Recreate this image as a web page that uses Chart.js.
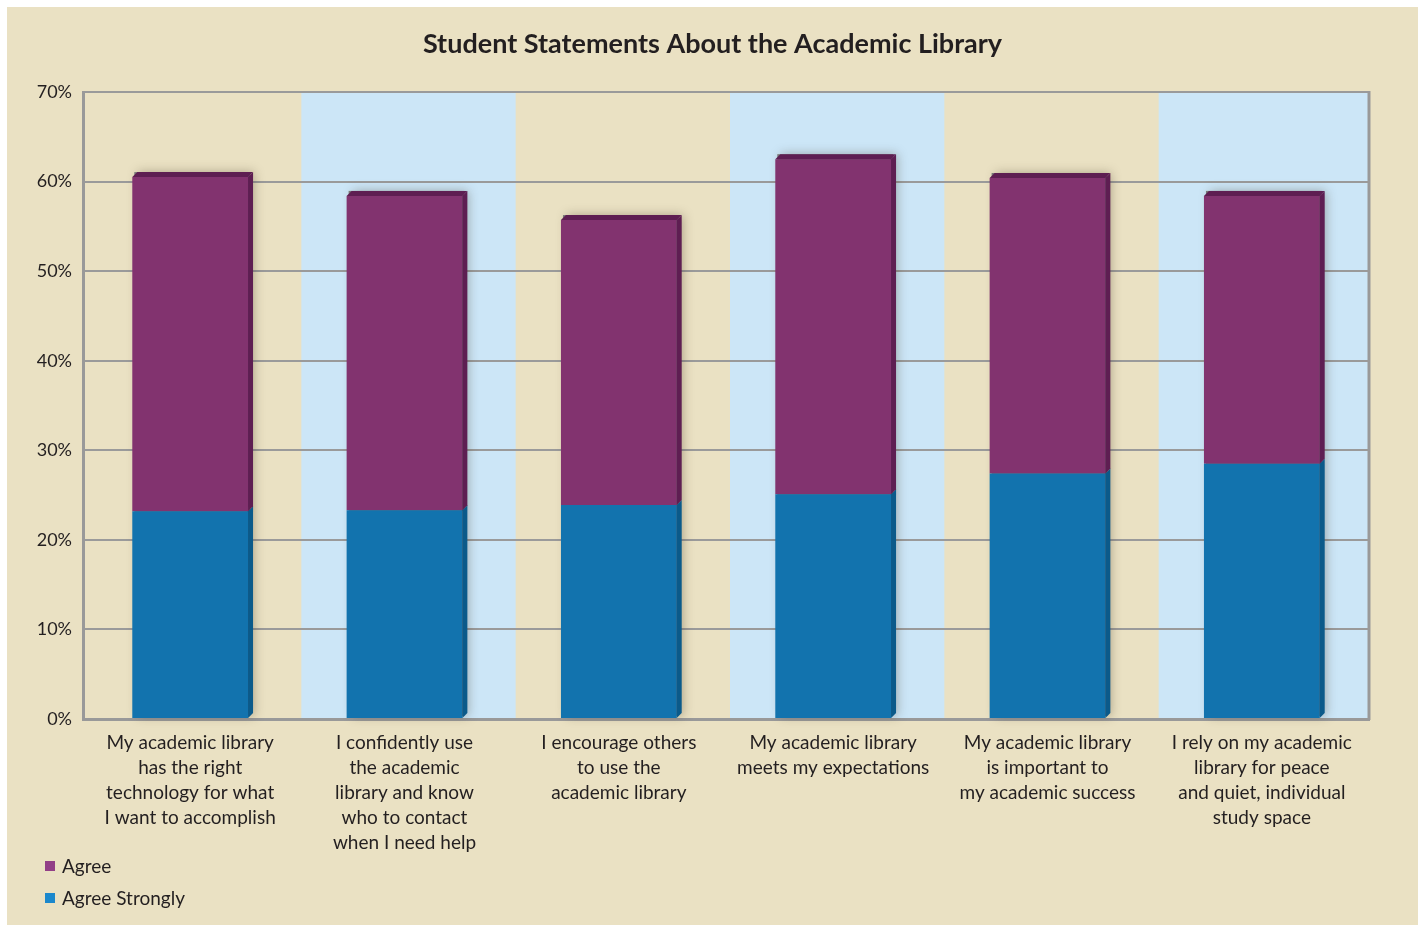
<!DOCTYPE html>
<html>
<head>
<meta charset="utf-8">
<title>Student Statements About the Academic Library</title>
<script src="https://cdn.jsdelivr.net/npm/chart.js@4.4.1/dist/chart.umd.min.js"></script>
<style>
    html, body {
        margin: 0;
        padding: 0;
        background: #ffffff;
    }
    .chart-container {
        position: absolute;
        left: 7px;
        top: 7px;
        width: 1411px;
        height: 918px;
        background: #eae1c3;
    }
</style>
</head>
<body>
<div class="chart-container">
    <canvas id="libraryChart" width="1411" height="918"></canvas>
</div>
<script>
// Survey data, percentages of students
const statements = [
    ['My academic library', 'has the right', 'technology for what', 'I want to accomplish'],
    ['I confidently use', 'the academic', 'library and know', 'who to contact', 'when I need help'],
    ['I encourage others', 'to use the', 'academic library'],
    ['My academic library', 'meets my expectations'],
    ['My academic library', 'is important to', 'my academic success'],
    ['I rely on my academic', 'library for peace', 'and quiet, individual', 'study space']
];
const agreeStrongly = [23.2, 23.3, 23.9, 25.1, 27.4, 28.5];
const agree = [37.3, 35.1, 31.8, 37.4, 33.0, 29.9];
const yTicks = [0, 10, 20, 30, 40, 50, 60, 70];
const chartTitle = 'Student Statements About the Academic Library';

const TEXT_COLOR = '#231f20';
const FONT = 'Lato, "Open Sans", sans-serif';
const DEPTH = 5;

// front colour, darker colour for the side/top faces, legend swatch
const faceColors = {
    front: ['#1273ae', '#82336f'],
    side: ['#0b5a8a', '#5e1e52'],
    legend: ['#1b88cc', '#923f87']
};

// alternating beige / light blue columns behind the bars
const bandsPlugin = {
    id: 'bands',
    beforeDraw(chart) {
        const {ctx, chartArea} = chart;
        const step = (chartArea.right - chartArea.left) / statements.length;
        ctx.save();
        ctx.fillStyle = '#cce6f7';
        for (let i = 1; i < statements.length; i += 2) {
            const x0 = chartArea.left + i * step + 4;
            const x1 = Math.min(chartArea.left + (i + 1) * step + 4, chartArea.right);
            ctx.fillRect(x0, chartArea.top, x1 - x0, chartArea.bottom - chartArea.top);
        }
        ctx.restore();
    },
    beforeDatasetsDraw(chart) {
        // right hand frame line
        const {ctx, chartArea} = chart;
        ctx.save();
        ctx.strokeStyle = '#999999';
        ctx.lineWidth = 3;
        ctx.beginPath();
        ctx.moveTo(chartArea.right, chartArea.top - 1);
        ctx.lineTo(chartArea.right, chartArea.bottom + 1);
        ctx.stroke();

        // soft shadow behind each stacked column
        const bottomMeta = chart.getDatasetMeta(0);
        const topMeta = chart.getDatasetMeta(1);
        bottomMeta.data.forEach((bar, i) => {
            const top = topMeta.data[i];
            const left = bar.x - bar.width / 2;
            const right = bar.x + bar.width / 2;
            ctx.save();
            ctx.shadowColor = 'rgba(60, 50, 30, 0.35)';
            ctx.shadowBlur = 10;
            ctx.shadowOffsetX = 4;
            ctx.shadowOffsetY = 0;
            ctx.fillStyle = '#777';
            ctx.fillRect(left + 2, top.y - DEPTH, right - left, bar.base - top.y + DEPTH - 2);
            ctx.restore();
        });
        ctx.restore();
    }
};

// side and top faces giving the bars their depth
const depthPlugin = {
    id: 'depth',
    afterDatasetsDraw(chart) {
        const {ctx} = chart;
        ctx.save();
        chart.data.datasets.forEach((ds, di) => {
            const meta = chart.getDatasetMeta(di);
            meta.data.forEach(bar => {
                const left = bar.x - bar.width / 2;
                const right = bar.x + bar.width / 2;
                const top = Math.min(bar.y, bar.base);
                const bottom = Math.max(bar.y, bar.base);
                ctx.fillStyle = faceColors.side[di];
                ctx.beginPath();
                ctx.moveTo(right, top);
                ctx.lineTo(right + DEPTH, top - DEPTH);
                ctx.lineTo(right + DEPTH, bottom - DEPTH);
                ctx.lineTo(right, bottom);
                ctx.closePath();
                ctx.fill();
                if (di === chart.data.datasets.length - 1) {
                    ctx.beginPath();
                    ctx.moveTo(left, top);
                    ctx.lineTo(left + DEPTH, top - DEPTH);
                    ctx.lineTo(right + DEPTH, top - DEPTH);
                    ctx.lineTo(right, top);
                    ctx.closePath();
                    ctx.fill();
                }
            });
        });
        ctx.restore();
    }
};

// title centred on the whole canvas, legend stacked in the bottom left corner
const textPlugin = {
    id: 'titleAndLegend',
    afterDraw(chart) {
        const {ctx, width} = chart;
        ctx.save();
        ctx.fillStyle = TEXT_COLOR;
        ctx.font = 'bold 27px ' + FONT;
        ctx.textAlign = 'center';
        ctx.textBaseline = 'middle';
        ctx.fillText(chartTitle, width / 2, 37);

        const items = chart.data.datasets.map((ds, i) => ({label: ds.label, color: faceColors.legend[i]})).reverse();
        ctx.font = '19px ' + FONT;
        ctx.textAlign = 'left';
        items.forEach((item, i) => {
            const y = 859 + i * 32;
            ctx.fillStyle = item.color;
            ctx.fillRect(38, y - 5, 10, 10);
            ctx.fillStyle = TEXT_COLOR;
            ctx.fillText(item.label, 55, y + 1);
        });
        ctx.restore();
    }
};

const ctx = document.getElementById('libraryChart').getContext('2d');
const libraryChart = new Chart(ctx, {
    type: 'bar',
    data: {
        labels: statements,
        datasets: [
            {
                label: 'Agree Strongly',
                data: agreeStrongly,
                backgroundColor: faceColors.front[0]
            },
            {
                label: 'Agree',
                data: agree,
                backgroundColor: faceColors.front[1]
            }
        ]
    },
    options: {
        responsive: false,
        animation: false,
        layout: {
            padding: {left: 0, right: 49, top: 85, bottom: 66}
        },
        datasets: {
            bar: {
                categoryPercentage: 1,
                barPercentage: 0.54
            }
        },
        plugins: {
            legend: {display: false},
            tooltip: {enabled: false},
            title: {display: false}
        },
        scales: {
            x: {
                stacked: true,
                grid: {display: false, drawTicks: false},
                border: {display: true, color: '#999999', width: 3},
                ticks: {
                    color: TEXT_COLOR,
                    font: {family: FONT, size: 19, lineHeight: 1.316},
                    padding: 11,
                    maxRotation: 0,
                    autoSkip: false
                },
                afterFit(scale) {
                    scale.height = 140;
                }
            },
            y: {
                stacked: true,
                min: 0,
                max: 70,
                afterBuildTicks(scale) {
                    scale.ticks = yTicks.map(v => ({value: v}));
                },
                grid: {color: '#9a9a9a', lineWidth: 2, drawTicks: false},
                border: {display: true, color: '#999999', width: 3},
                ticks: {
                    color: TEXT_COLOR,
                    font: {family: FONT, size: 18},
                    padding: 11,
                    callback: value => value + '%'
                },
                afterFit(scale) {
                    scale.width = 76;
                }
            }
        }
    },
    plugins: [bandsPlugin, depthPlugin, textPlugin]
});
</script>
</body>
</html>
